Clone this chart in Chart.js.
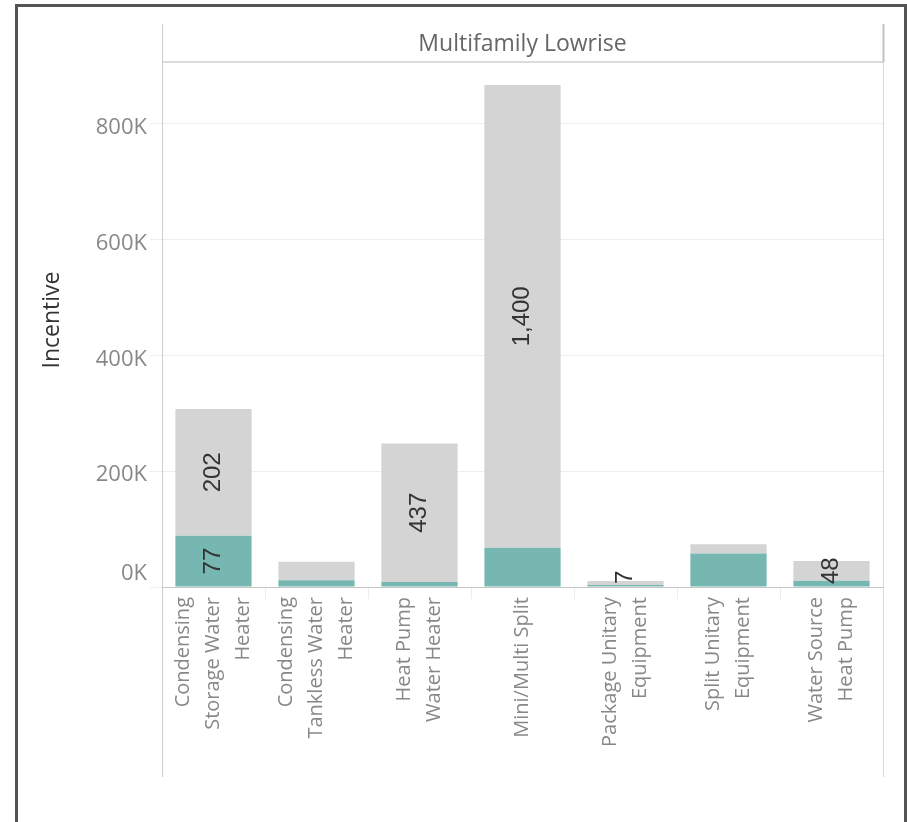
<!DOCTYPE html>
<html>
<head>
<meta charset="utf-8">
<script src="https://cdn.jsdelivr.net/npm/chart.js@4.4.1/dist/chart.umd.min.js"></script>
<style>
  html, body { margin: 0; padding: 0; background: #fff; }
  canvas { display: block; }
</style>
</head>
<body>
<canvas id="chart" width="907" height="822"></canvas>
<script>
// Measure categories, each split into the lines of its header cell
const categories = [
  ['Condensing', 'Storage Water', 'Heater'],
  ['Condensing', 'Tankless Water', 'Heater'],
  ['Heat Pump', 'Water Heater'],
  ['Mini/Multi Split'],
  ['Package Unitary', 'Equipment'],
  ['Split Unitary', 'Equipment'],
  ['Water Source', 'Heat Pump']
];

// Incentive dollars per stacked segment (teal at the bottom, gray on top)
const tealIncentive = [88600, 11500, 8600, 68000, 3500, 58000, 11000];
const grayIncentive = [219000, 32200, 239400, 799000, 6900, 15800, 34000];

// Project counts printed inside the segments
const tealCounts = [77, null, null, null, null, null, null];
const grayCounts = [202, null, 437, 1400, 7, null, 48];

// Value axis
const yTicks = [0, 200000, 400000, 600000, 800000];
const yMax = 905000;

const panelTitle = 'Multifamily Lowrise';
const axisTitle = 'Incentive';

const UI_FONT = '"Open Sans", "Noto Sans", sans-serif';
const NUM_FONT = '"Liberation Sans", Arial, sans-serif';

const fmtK = v => Math.round(v / 1000) + 'K';
const fmtCount = v => v.toLocaleString('en-US');

const PANEL_TOP = 24;
const PANEL_BOTTOM = 777;
const HEADER_LINE = 62;

const tableauFrame = {
  id: 'tableauFrame',
  beforeDraw(chart) {
    const c = chart.ctx;
    const a = chart.chartArea;
    c.save();
    // outer worksheet border
    c.strokeStyle = '#545454';
    c.lineWidth = 3;
    c.beginPath();
    c.moveTo(16.5, 830);
    c.lineTo(16.5, 5.5);
    c.lineTo(905.5, 5.5);
    c.lineTo(905.5, 830);
    c.stroke();

    // header cell
    c.strokeStyle = '#dcdcdc';
    c.lineWidth = 2;
    c.beginPath();
    c.moveTo(a.left, HEADER_LINE);
    c.lineTo(a.right + 1, HEADER_LINE);
    c.stroke();

    c.fillStyle = '#666666';
    c.font = '23px ' + UI_FONT;
    c.textAlign = 'center';
    c.textBaseline = 'middle';
    c.fillText(panelTitle, (a.left + a.right) / 2, 44);

    // measure title, rotated along the value axis
    c.save();
    c.translate(52, 320);
    c.rotate(-Math.PI / 2);
    c.fillStyle = '#333333';
    c.font = '23px ' + UI_FONT;
    c.fillText(axisTitle, 0, 0);
    c.restore();
    c.restore();
  },
  afterDraw(chart) {
    const c = chart.ctx;
    const a = chart.chartArea;
    const xs = chart.scales.x;
    const ys = chart.scales.y;
    c.save();

    // pane side rules
    c.lineWidth = 1;
    c.strokeStyle = '#cccccc';
    c.beginPath();
    c.moveTo(a.left + 0.5, PANEL_TOP);
    c.lineTo(a.left + 0.5, PANEL_BOTTOM);
    c.stroke();
    c.strokeStyle = '#d8d8d8';
    c.beginPath();
    c.moveTo(a.right + 0.5, HEADER_LINE);
    c.lineTo(a.right + 0.5, PANEL_BOTTOM);
    c.stroke();
    c.strokeStyle = '#c2c2c2';
    c.lineWidth = 2;
    c.beginPath();
    c.moveTo(a.right + 0.5, PANEL_TOP);
    c.lineTo(a.right + 0.5, HEADER_LINE);
    c.stroke();

    // value-axis labels
    c.fillStyle = '#888888';
    c.font = '22px ' + UI_FONT;
    c.textAlign = 'right';
    c.textBaseline = 'middle';
    yTicks.forEach(v => {
      let y = ys.getPixelForValue(v) + 4;
      if (v === 0) y = ys.getPixelForValue(v) - 13;
      c.fillText(fmtK(v), a.left - 15, y);
    });

    // category header labels, rotated
    c.font = '20px ' + UI_FONT;
    c.fillStyle = '#888888';
    categories.forEach((lines, i) => {
      const cx = xs.getPixelForValue(i);
      c.save();
      c.translate(cx, a.bottom + 10);
      c.rotate(-Math.PI / 2);
      c.textAlign = 'right';
      c.textBaseline = 'middle';
      const step = 30;
      lines.forEach((t, k) => {
        c.fillText(t, 0, (k - (lines.length - 1) / 2) * step);
      });
      c.restore();
    });

    // count labels inside the segments
    c.font = '24px ' + NUM_FONT;
    c.fillStyle = '#333333';
    chart.data.datasets.forEach((ds, di) => {
      const meta = chart.getDatasetMeta(di);
      meta.data.forEach((bar, j) => {
        const n = ds.counts[j];
        if (n == null) return;
        const text = fmtCount(n);
        const half = c.measureText(text).width / 2;
        let cy = (bar.y + bar.base) / 2;
        cy = Math.min(cy, a.bottom - half - 3);
        c.save();
        c.translate(bar.x, cy);
        c.rotate(-Math.PI / 2);
        c.textAlign = 'center';
        c.textBaseline = 'middle';
        c.fillText(text, 0, 0);
        c.restore();
      });
    });
    c.restore();
  }
};

new Chart(document.getElementById('chart'), {
  type: 'bar',
  data: {
    labels: categories.map(l => l.join(' ')),
    datasets: [
      { label: 'Teal', data: tealIncentive, counts: tealCounts, backgroundColor: '#76b7b2',
        barPercentage: 0.74, categoryPercentage: 1 },
      { label: 'Gray', data: grayIncentive, counts: grayCounts, backgroundColor: '#d4d4d4',
        barPercentage: 0.74, categoryPercentage: 1 }
    ]
  },
  options: {
    responsive: false,
    animation: false,
    layout: { padding: { top: 63, right: 24, left: 0, bottom: 0 } },
    plugins: { legend: { display: false }, tooltip: { enabled: false } },
    scales: {
      x: {
        stacked: true,
        ticks: { display: false },
        grid: { offset: true, drawOnChartArea: false, tickLength: 12, color: '#ececec' },
        border: { color: '#c6c6c6' },
        afterFit(s) { s.height = 235; }
      },
      y: {
        stacked: true,
        min: 0,
        max: yMax,
        afterBuildTicks(s) { s.ticks = yTicks.map(v => ({ value: v })); },
        ticks: { display: false },
        grid: { color: '#eeeeee', tickLength: 12 },
        border: { display: false },
        title: { display: false },
        afterFit(s) { s.width = 162; }
      }
    }
  },
  plugins: [tableauFrame]
});
</script>
</body>
</html>
